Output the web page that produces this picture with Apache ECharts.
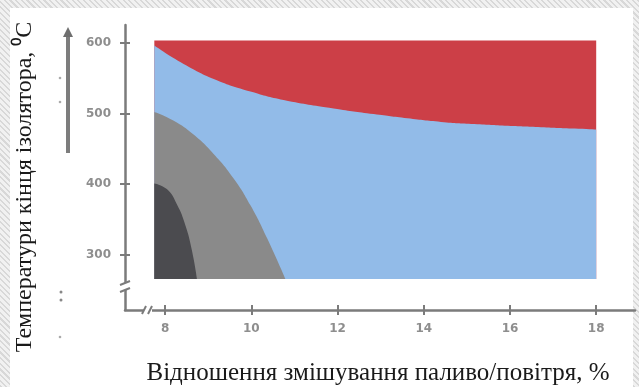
<!DOCTYPE html>
<html><head><meta charset="utf-8">
<script src="https://cdn.jsdelivr.net/npm/echarts@6/dist/echarts.min.js"></script>
<style>
html,body{margin:0;padding:0;}
body{width:639px;height:387px;position:relative;overflow:hidden;
 background:repeating-linear-gradient(45deg,#d8d8d8 0 1.5px,#f1f1f1 1.5px 4px),#eee;}
#paper{position:absolute;left:10px;top:8px;right:6px;bottom:0;background:#fff;}
#c{position:absolute;left:0;top:0;width:639px;height:387px;}
</style>
</head><body><div id="paper"></div><div id="c"></div>
<script>
// Tick values and axis ranges
const xTicks = [8, 10, 12, 14, 16, 18];
const yTicks = [300, 400, 500, 600];
const xRange = [7.07, 18.9];
const yRange = [222, 625];
const floorValue = 266;

// Region upper boundaries (x = fuel/air ratio %, y = temperature °C)
const redTop = [[7.75, 603], [18, 603]];
const blueTop = [[7.75, 596], [8.43, 570], [9.2, 547], [9.98, 531], [10.75, 519], [11.91, 507], [12.84, 499], [13.62, 493], [14.4, 488], [15.17, 485], [15.95, 482.5], [16.72, 480.5], [17.5, 478.5], [18, 477]];
const grayTop = [[7.75, 502], [8.19, 490], [8.66, 470], [9.12, 443], [9.59, 408], [9.98, 370], [10.37, 323], [10.79, 266]];
const darkTop = [[7.75, 401], [8.04, 393], [8.27, 372], [8.47, 342], [8.62, 307], [8.74, 266]];

const xTitle = 'Відношення змішування паливо/повітря, %';
const yTitle = 'Температури кінця ізолятора, ⁰С';

const axisGray = '#7b7b7b';
const labelStyle = {color: '#8e8e8e', fontFamily: 'DejaVu Sans', fontWeight: 'bold', fontSize: 12};

function region(name, data, color, smooth) {
  return {
    name: name, type: 'line', data: data, smooth: smooth,
    xAxisIndex: 0, yAxisIndex: 0,
    showSymbol: false, symbol: 'none', silent: true,
    lineStyle: {width: 0},
    areaStyle: {color: color, opacity: 1, origin: floorValue}
  };
}

const chart = echarts.init(document.getElementById('c'), null, {renderer: 'canvas'});
chart.setOption({
  animation: false,
  backgroundColor: 'transparent',
  grid: {left: 125, right: 4, top: 25, bottom: 77},
  xAxis: [{
    type: 'value', min: xRange[0], max: xRange[1],
    axisLine: {show: true, lineStyle: {color: axisGray, width: 2.5}},
    axisTick: {show: true, customValues: xTicks, length: 5, lineStyle: {color: axisGray, width: 2}},
    axisLabel: Object.assign({customValues: xTicks, margin: 13}, labelStyle),
    splitLine: {show: false}
  }, {
    type: 'value', min: xRange[0], max: xRange[1], position: 'bottom', offset: 0,
    axisLine: {show: false},
    axisTick: {show: true, inside: true, customValues: xTicks, length: 5, lineStyle: {color: axisGray, width: 2}},
    axisLabel: {show: false}, splitLine: {show: false}
  }],
  yAxis: [{
    type: 'value', min: yRange[0], max: yRange[1],
    axisLine: {show: true, lineStyle: {color: axisGray, width: 2.5}},
    axisTick: {show: true, customValues: yTicks, length: 5, lineStyle: {color: axisGray, width: 2}},
    axisLabel: Object.assign({customValues: yTicks, margin: 14}, labelStyle),
    splitLine: {show: false}
  }, {
    type: 'value', min: yRange[0], max: yRange[1], position: 'left', offset: 0,
    axisLine: {show: false},
    axisTick: {show: true, inside: true, customValues: yTicks, length: 5, lineStyle: {color: axisGray, width: 2}},
    axisLabel: {show: false}, splitLine: {show: false}
  }],
  series: [
    region('high', redTop, '#cc3f47', false),
    region('mid', blueTop, '#92bbe8', 0.5),
    region('low', grayTop, '#8a8a8a', 0.5),
    region('lowest', darkTop, '#4b4b4f', 0.5)
  ],
  graphic: [
    {type: 'text', z: 50, x: 378, y: 373, style: {text: xTitle, font: '25px "Liberation Serif"', fill: '#1a1a1a', align: 'center', verticalAlign: 'middle'}},
    {type: 'text', z: 50, x: 25, y: 187, rotation: Math.PI / 2, style: {text: yTitle, font: '24px "Liberation Serif"', fill: '#1a1a1a', align: 'center', verticalAlign: 'middle'}},
    // vertical arrow
    {type: 'line', z: 50, shape: {x1: 68, y1: 153, x2: 68, y2: 34}, style: {stroke: '#7d7d7d', lineWidth: 4}},
    {type: 'polygon', z: 50, shape: {points: [[63, 37], [73, 37], [68, 27]]}, style: {fill: '#6f6f6f'}},
    // axis break marks
    {type: 'rect', z: 60, shape: {x: 144, y: 306, width: 8, height: 8}, style: {fill: '#fff'}},
    {type: 'line', z: 61, shape: {x1: 142, y1: 314, x2: 146, y2: 306}, style: {stroke: axisGray, lineWidth: 2}},
    {type: 'line', z: 61, shape: {x1: 148, y1: 314, x2: 152, y2: 306}, style: {stroke: axisGray, lineWidth: 2}},
    {type: 'rect', z: 60, shape: {x: 121, y: 283, width: 8, height: 7}, style: {fill: '#fff'}},
    {type: 'line', z: 61, shape: {x1: 120, y1: 285, x2: 130, y2: 281}, style: {stroke: axisGray, lineWidth: 2}},
    {type: 'line', z: 61, shape: {x1: 120, y1: 292, x2: 130, y2: 288}, style: {stroke: axisGray, lineWidth: 2}},
    // faint specks
    {type: 'circle', z: 50, shape: {cx: 60, cy: 78, r: 1.3}, style: {fill: '#aaa'}},
    {type: 'circle', z: 50, shape: {cx: 60, cy: 102, r: 1.3}, style: {fill: '#aaa'}},
    {type: 'circle', z: 50, shape: {cx: 61, cy: 292, r: 1.5}, style: {fill: '#888'}},
    {type: 'circle', z: 50, shape: {cx: 61, cy: 300, r: 1.5}, style: {fill: '#888'}},
    {type: 'circle', z: 50, shape: {cx: 60, cy: 337, r: 1.3}, style: {fill: '#aaa'}}
  ]
});
</script>
</body></html>
